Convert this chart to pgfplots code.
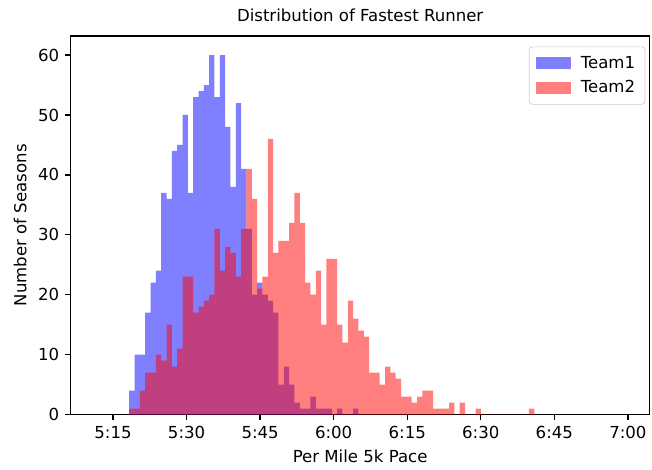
\documentclass[border=0pt]{standalone}
\usepackage{fontspec}
\setmainfont{DejaVu Sans}
\usepackage{pgfplots}
\pgfplotsset{compat=1.18}
\usepackage{pgfplotstable}

\pgfplotstableread{
x y
18.30 4
19.39 10
20.47 10
21.56 17
22.65 22
23.74 24
24.82 37
25.91 36
27.00 44
28.08 45
29.17 50
30.26 37
31.34 53
32.43 54
33.52 55
34.61 60
35.69 53
36.78 60
37.87 48
38.95 38
40.04 52
41.13 41
42.21 31
43.30 20
44.39 22
45.48 20
46.56 19
47.65 17
48.74 5
49.82 8
50.91 5
52.00 2
53.08 1
54.17 1
55.26 3
56.35 1
57.43 1
58.52 1
59.61 0
60.69 1
61.78 0
62.87 0
63.95 1
65.04 0
}\teamone

\pgfplotstableread{
x y
18.30 1
19.39 1
20.47 4
21.56 7
22.65 7
23.74 10
24.82 9
25.91 15
27.00 8
28.08 11
29.17 23
30.26 23
31.34 17
32.43 18
33.52 19
34.61 20
35.69 31
36.78 24
37.87 28
38.95 27
40.04 23
41.13 31
42.21 41
43.30 36
44.39 21
45.48 23
46.56 46
47.65 27
48.74 29
49.82 29
50.91 32
52.00 37
53.08 32
54.17 22
55.26 20
56.35 24
57.43 15
58.52 26
59.61 26
60.69 15
61.78 12
62.87 19
63.95 16
65.04 14
66.13 13
67.22 7
68.30 7
69.39 5
70.48 8
71.56 7
72.65 6
73.74 3
74.82 3
75.91 2
77.00 3
78.09 4
79.17 4
80.26 1
81.35 1
82.43 1
83.52 2
84.61 0
85.69 2
86.78 0
87.87 0
88.96 1
90.04 0
91.13 0
92.22 0
93.30 0
94.39 0
95.48 0
96.56 0
97.65 0
98.74 0
99.83 1
100.91 0
}\teamtwo

\begin{document}
\begin{tikzpicture}
\begin{axis}[
  name=ax,
  scale only axis,
  width=348bp, height=227.7bp,
  xmin=6.39, xmax=124.4,
  ymin=0, ymax=63.2,
  xtick={15,30,45,60,75,90,105,120},
  xticklabels={5:15,5:30,5:45,6:00,6:15,6:30,6:45,7:00},
  ytick={0,10,20,30,40,50,60},
  tick align=outside,
  tick pos=left,
  major tick length=3.5bp,
  every tick/.style={black, line width=0.8bp},
  axis line style={line width=0.8bp},
  font=\fontsize{10}{12}\selectfont,
  tick label style={font=\fontsize{10}{12}\selectfont},
  /pgf/number format/assume math mode=true,
  title={Distribution of Fastest Runner},
  title style={font=\fontsize{10}{12}\selectfont, yshift=-1bp},
  xlabel={Per Mile 5k Pace},
  ylabel={Number of Seasons},
  label style={font=\fontsize{10}{12}\selectfont},
  legend cell align=left,
  legend image code/.code={%
    \fill[#1, sharp corners] (0bp,-3.5bp) rectangle (21bp,3.5bp);
    \path (25bp,0bp);},
  legend style={at={(0.993,0.972)}, anchor=north east,
    draw=black!20, rounded corners=2bp, fill=white,
    font=\fontsize{10}{12}\selectfont,
    row sep=2bp, inner xsep=4bp, inner ysep=3.5bp},
]
\addplot[ybar interval, fill=blue, fill opacity=0.5, draw=none] table[x=x,y=y] {\teamone};
\addlegendentry{Team1}
\addplot[ybar interval, fill=red, fill opacity=0.5, draw=none] table[x=x,y=y] {\teamtwo};
\addlegendentry{Team2}
\end{axis}
\path (ax.south west) ++(-42.6bp,-33.3bp) coordinate (bbA);
\path (ax.north east) ++(0.6bp,21.6bp) coordinate (bbB);
\end{tikzpicture}
\end{document}
